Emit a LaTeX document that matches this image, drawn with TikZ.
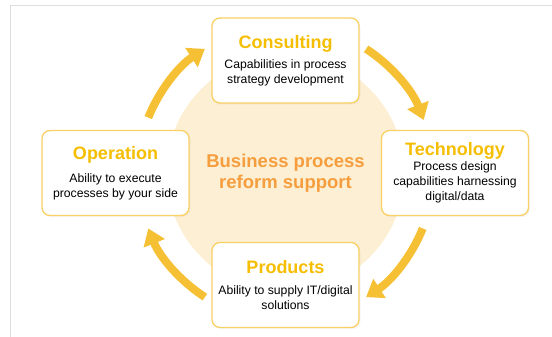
\documentclass[tikz,border=0pt]{standalone}
\usepackage{fontspec}
\setmainfont{Liberation Sans}
\usetikzlibrary{arrows.meta,shadows}
\definecolor{headgold}{RGB}{245,190,0}
\definecolor{coreorange}{RGB}{246,158,62}
\definecolor{discfill}{RGB}{253,239,211}
\definecolor{boxline}{RGB}{248,208,100}
\definecolor{arrowgold}{RGB}{245,192,52}
\definecolor{framegray}{RGB}{222,222,222}
\newcommand\boxhead[1]{{\fontsize{18}{21}\selectfont\bfseries\color{headgold}#1}}
\begin{document}
\begin{tikzpicture}[x=1pt,y=1pt,
	box/.style={draw=boxline,line width=1.3pt,fill=white,rounded corners=8pt,
		minimum width=147pt,minimum height=85pt,align=center,inner sep=2pt,
		font=\fontsize{12.2}{15}\selectfont,
		drop shadow={opacity=0.08,shadow xshift=1.5pt,shadow yshift=-1.5pt}},
	cyc/.style={draw=arrowgold,line width=8pt,-{Triangle[width=22pt,length=16pt]}}]
\useasboundingbox (0,0) rectangle (552,-337);
\draw[framegray,line width=1.5pt] (10.5,-337) -- (10.5,-5.5) -- (552,-5.5);
\coordinate (hub) at (285.5,-173);
\fill[discfill] (hub) circle[radius=119];
\node[text=coreorange,align=center,font=\fontsize{18.5}{21}\selectfont\bfseries] (core) at (hub) {Business process\\reform support};
% the four boxes
\node[box] (consulting) at (285.5,-60.5) {\boxhead{Consulting}\\[5pt]Capabilities in process\\strategy development};
\node[box] (technology) at (455,-173) {\boxhead{Technology}\\[0pt]Process design\\capabilities harnessing\\digital/data};
\node[box] (products) at (285.5,-285) {\boxhead{Products}\\[6pt]Ability to supply IT/digital\\solutions};
\node[box] (operation) at (115.5,-173) {\boxhead{Operation}\\[8pt]Ability to execute\\processes by your side};
% cycle arrows
\draw[cyc] ([shift={(158:148)}]hub) arc[start angle=158,end angle=123,radius=148];
\draw[cyc] ([shift={(57:148)}]hub) arc[start angle=57,end angle=21,radius=148];
\draw[cyc] ([shift={(-22:148)}]hub) arc[start angle=-22,end angle=-57,radius=148];
\draw[cyc] ([shift={(-123:148)}]hub) arc[start angle=-123,end angle=-158,radius=148];
\end{tikzpicture}
\end{document}
